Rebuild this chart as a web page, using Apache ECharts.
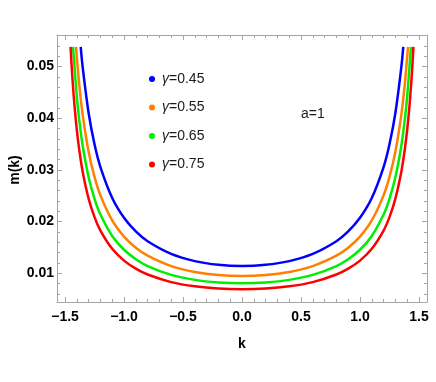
<!DOCTYPE html>
<html>
<head>
<meta charset="utf-8">
<script src="https://cdn.jsdelivr.net/npm/echarts@6/dist/echarts.min.js"></script>
<style>html,body{margin:0;padding:0;background:#fff}#c{width:436px;height:382px}</style>
</head>
<body>
<div id="c"></div>
<script>
// ---- data ----
var seriesNames = ['γ=0.45', 'γ=0.55', 'γ=0.65', 'γ=0.75'];
var seriesColors = ['#0000ff', '#ff8000', '#00ee00', '#ff0000'];

var kBlue = [-1.367, -1.35, -1.3, -1.25, -1.2, -1.1, -1.0, -0.9, -0.8, -0.6, -0.4, -0.2, 0, 0.2, 0.4, 0.6, 0.8, 0.9, 1.0, 1.1, 1.2, 1.25, 1.3, 1.35, 1.367];
var mBlue = [0.0538, 0.04981, 0.04102, 0.03496, 0.03055, 0.02456, 0.02073, 0.01809, 0.01619, 0.01374, 0.01235, 0.01163, 0.0114, 0.01163, 0.01235, 0.01374, 0.01619, 0.01809, 0.02073, 0.02456, 0.03055, 0.03496, 0.04102, 0.04981, 0.0538];

var kOrange = [-1.407, -1.38, -1.35, -1.3, -1.25, -1.2, -1.1, -1.0, -0.9, -0.8, -0.6, -0.4, -0.2, 0, 0.2, 0.4, 0.6, 0.8, 0.9, 1.0, 1.1, 1.2, 1.25, 1.3, 1.35, 1.38, 1.407];
var mOrange = [0.0538, 0.04663, 0.04061, 0.03353, 0.02864, 0.02507, 0.02022, 0.01710, 0.01495, 0.01340, 0.01139, 0.01026, 0.00966, 0.00948, 0.00966, 0.01026, 0.01139, 0.01340, 0.01495, 0.01710, 0.02022, 0.02507, 0.02864, 0.03353, 0.04061, 0.04663, 0.0538];

var kGreen = [-1.432, -1.4, -1.38, -1.35, -1.3, -1.25, -1.2, -1.1, -1.0, -0.9, -0.8, -0.6, -0.4, -0.2, 0, 0.2, 0.4, 0.6, 0.8, 0.9, 1.0, 1.1, 1.2, 1.25, 1.3, 1.35, 1.38, 1.4, 1.432];
var mGreen = [0.0538, 0.04418, 0.03978, 0.03463, 0.02858, 0.02441, 0.02136, 0.01722, 0.01455, 0.01272, 0.01140, 0.00969, 0.00872, 0.00822, 0.00806, 0.00822, 0.00872, 0.00969, 0.01140, 0.01272, 0.01455, 0.01722, 0.02136, 0.02441, 0.02858, 0.03463, 0.03978, 0.04418, 0.0538];

var kRed = [-1.453, -1.44, -1.42, -1.4, -1.38, -1.35, -1.3, -1.25, -1.2, -1.1, -1.0, -0.9, -0.8, -0.6, -0.4, -0.2, 0, 0.2, 0.4, 0.6, 0.8, 0.9, 1.0, 1.1, 1.2, 1.25, 1.3, 1.35, 1.38, 1.4, 1.42, 1.44, 1.453];
var mRed = [0.0538, 0.04867, 0.04250, 0.03775, 0.03400, 0.02960, 0.02444, 0.02087, 0.01827, 0.01473, 0.01245, 0.01089, 0.00976, 0.00829, 0.00747, 0.00703, 0.0069, 0.00703, 0.00747, 0.00829, 0.00976, 0.01089, 0.01245, 0.01473, 0.01827, 0.02087, 0.02444, 0.02960, 0.03400, 0.03775, 0.04250, 0.04867, 0.0538];

var xMajorTicks = [-1.5, -1.0, -0.5, 0.0, 0.5, 1.0, 1.5];
var xMinorTicks = [-1.5, -1.4, -1.3, -1.2, -1.1, -1.0, -0.9, -0.8, -0.7, -0.6, -0.5, -0.4, -0.3, -0.2, -0.1, 0, 0.1, 0.2, 0.3, 0.4, 0.5, 0.6, 0.7, 0.8, 0.9, 1.0, 1.1, 1.2, 1.3, 1.4, 1.5];
var yMajorTicks = [0.01, 0.02, 0.03, 0.04, 0.05];
var yMinorTicks = [0.006, 0.008, 0.01, 0.012, 0.014, 0.016, 0.018, 0.02, 0.022, 0.024, 0.026, 0.028, 0.03, 0.032, 0.034, 0.036, 0.038, 0.04, 0.042, 0.044, 0.046, 0.048, 0.05, 0.052, 0.054];

var kArrays = [kBlue, kOrange, kGreen, kRed];
var mArrays = [mBlue, mOrange, mGreen, mRed];

// ---- chart ----
var XMIN = -1.568, XMAX = 1.568, YMIN = 0.00444, YMAX = 0.0561;
var frameColor = '#a6a6a6';
var FONT = 'Liberation Sans, Arial, sans-serif';
var labelStyle = {color: '#000', fontFamily: FONT, fontWeight: 'bold', fontSize: 14};

function xAxisDef(pos, major, showLabel, showLine) {
  return {
    type: 'value', position: pos, min: XMIN, max: XMAX, gridIndex: 0,
    axisLine: {show: showLine, onZero: false, lineStyle: {color: frameColor, width: 1}},
    axisTick: {show: true, inside: true, length: major ? 5 : 3, customValues: major ? xMajorTicks : xMinorTicks, lineStyle: {color: frameColor}},
    axisLabel: Object.assign({show: showLabel, customValues: xMajorTicks, margin: 8,
      formatter: function (v) { return (v < 0 ? '\u2212' : '') + Math.abs(v).toFixed(1); }}, labelStyle),
    splitLine: {show: false}
  };
}
function yAxisDef(pos, major, showLabel, showLine) {
  return {
    type: 'value', position: pos, min: YMIN, max: YMAX, gridIndex: 0,
    axisLine: {show: showLine, onZero: false, lineStyle: {color: frameColor, width: 1}},
    axisTick: {show: true, inside: true, length: major ? 5 : 3, customValues: major ? yMajorTicks : yMinorTicks, lineStyle: {color: frameColor}},
    axisLabel: Object.assign({show: showLabel, customValues: yMajorTicks, margin: 3,
      formatter: function (v) { return v.toFixed(2); }}, labelStyle),
    splitLine: {show: false}
  };
}

var xAxes = [
  xAxisDef('bottom', true, true, true),
  xAxisDef('bottom', false, false, false),
  xAxisDef('top', true, false, true),
  xAxisDef('top', false, false, false)
];
xAxes[0].name = 'k';
xAxes[0].nameLocation = 'middle';
xAxes[0].nameGap = 35;
xAxes[0].nameTextStyle = {color: '#000', fontFamily: FONT, fontWeight: 'bold', fontSize: 14};

var yAxes = [
  yAxisDef('left', true, true, true),
  yAxisDef('left', false, false, false),
  yAxisDef('right', true, false, true),
  yAxisDef('right', false, false, false)
];

var series = seriesNames.map(function (name, i) {
  return {
    name: name, type: 'line', xAxisIndex: 0, yAxisIndex: 0,
    data: kArrays[i].map(function (k, j) { return [k, mArrays[i][j]]; }),
    smooth: 0.35, showSymbol: false, symbol: 'circle', clip: true,
    lineStyle: {color: seriesColors[i], width: 2.5},
    itemStyle: {color: seriesColors[i]},
    silent: true, animation: false
  };
});

var chart = echarts.init(document.getElementById('c'), null, {renderer: 'canvas'});
chart.setOption({
  animation: false,
  backgroundColor: '#fff',
  grid: {left: 57, right: 9, top: 35, bottom: 80, containLabel: false, outerBoundsMode: 'none'},
  xAxis: xAxes,
  yAxis: yAxes,
  legend: {
    orient: 'vertical', left: 144, top: 66,
    icon: 'circle', itemWidth: 6, itemHeight: 6, itemGap: 12.5,
    selectedMode: false,
    data: seriesNames.map(function (n, i) { return {name: n, itemStyle: {color: seriesColors[i]}}; }),
    formatter: function (name) { return '{g|γ}{t|' + name.slice(1) + '}'; },
    textStyle: {
      lineHeight: 16,
      rich: {
        g: {fontFamily: FONT, fontStyle: 'italic', fontSize: 14, color: '#1a1a1a', padding: [0, 0, 0, 2]},
        t: {fontFamily: FONT, fontSize: 14, color: '#1a1a1a'}
      }
    }
  },
  graphic: [{
    type: 'text', left: 301, top: 107,
    style: {text: 'a=1', fontFamily: FONT, fontSize: 14, fill: '#1a1a1a'}
  }, {
    type: 'text', x: 15, y: 170, rotation: Math.PI / 2,
    style: {text: 'm(k)', fontFamily: FONT, fontWeight: 'bold', fontSize: 14, fill: '#000', align: 'center', verticalAlign: 'middle'}
  }],
  series: series
});
</script>
</body>
</html>
